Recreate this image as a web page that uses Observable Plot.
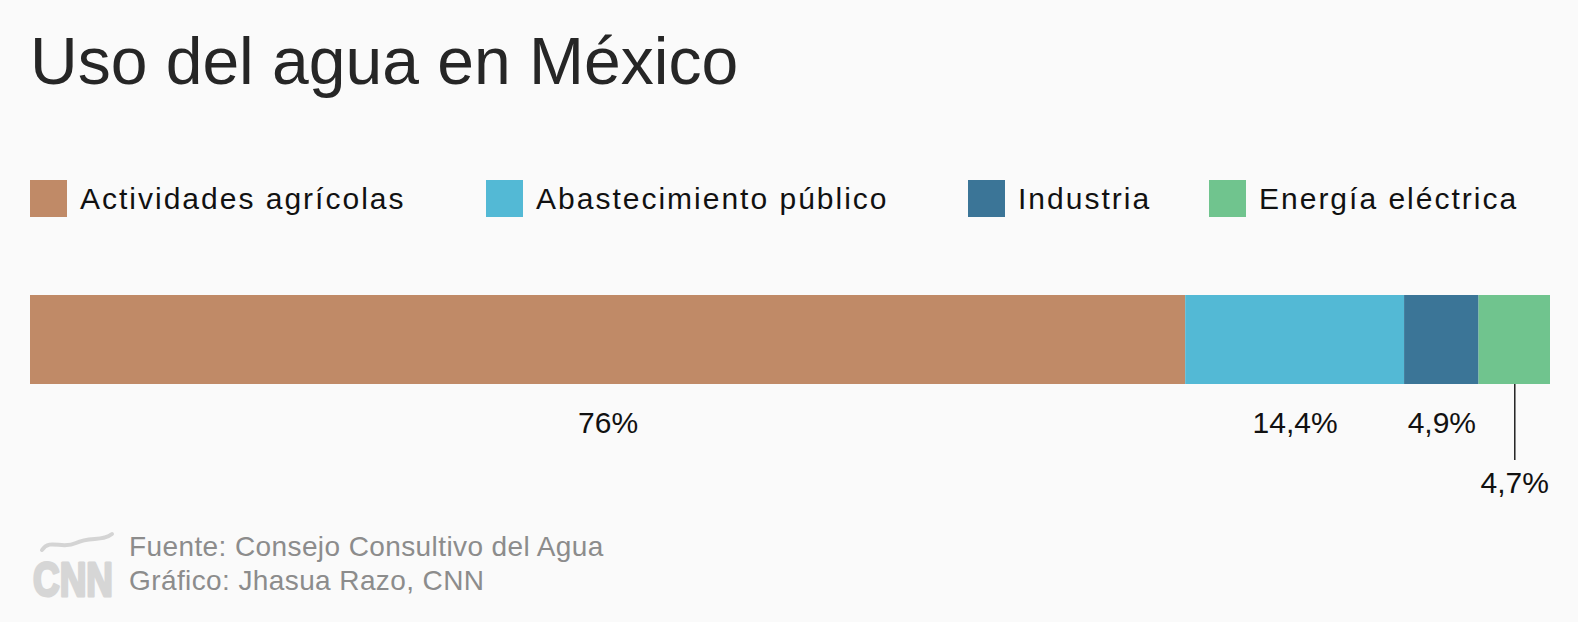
<!DOCTYPE html>
<html><head><meta charset="utf-8">
<script src="https://cdn.jsdelivr.net/npm/d3@7"></script>
<script src="https://cdn.jsdelivr.net/npm/@observablehq/plot@0.6"></script>
<style>
html,body{margin:0;padding:0;background:#fafafa;}
#wrap{position:relative;width:1578px;height:622px;overflow:hidden;font-family:"Liberation Sans",Arial,sans-serif;}
#title{position:absolute;left:30px;top:28px;font-size:66px;line-height:66px;color:#262626;white-space:nowrap;}
.leg{position:absolute;top:180px;height:37px;display:flex;align-items:center;white-space:nowrap;}
.sw{width:37px;height:37px;margin-right:13px;flex:none;}
.lt{font-size:30px;line-height:37px;letter-spacing:2px;color:#111;}
#chart{position:absolute;left:0;top:240px;}
#foot{position:absolute;left:129px;top:530px;font-size:28px;line-height:34px;color:#8c8c8c;letter-spacing:0.4px;white-space:nowrap;}
#logo{position:absolute;left:28px;top:528px;overflow:visible;}
</style></head>
<body><div id="wrap">
<div id="title">Uso del agua en México</div>
<div id="legend"></div>
<div id="chart"></div>
<svg id="logo" width="90" height="84">
 <path d="M14,22 C22,10 34,22 48,15 C62,8 74,14 84,6" fill="none" stroke="#d4d4d4" stroke-width="4" stroke-linecap="round"/>
 <text x="5" y="68" font-family="Liberation Sans, Arial, sans-serif" font-size="48" font-weight="700" textLength="80" lengthAdjust="spacingAndGlyphs" fill="#d6d6d6" stroke="#d6d6d6" stroke-width="3" stroke-linejoin="round">CNN</text>
</svg>
<div id="foot">Fuente: Consejo Consultivo del Agua<br>Gráfico: Jhasua Razo, CNN</div>
</div>
<script>
// --- data ---
const categories = ["Actividades agrícolas", "Abastecimiento público", "Industria", "Energía eléctrica"];
const values = [76, 14.4, 4.9, 4.7];
const colors = ["#c08a67", "#53b9d5", "#3b7597", "#70c48e"];
const calloutCategories = ["Energía eléctrica"]; // label placed below with a leader line

// --- layout (legend item left edges) ---
const legendLeft = [30, 486, 968, 1209];

const fmt = v => String(v).replace(".", ",") + "%";
const ends = d3.cumsum(values);
const rows = categories.map((c, i) => ({
  category: c,
  value: values[i],
  x1: ends[i] - values[i],
  x2: ends[i],
  mid: ends[i] - values[i] / 2,
  label: fmt(values[i])
}));
const inline = rows.filter(d => !calloutCategories.includes(d.category));
const callout = rows.filter(d => calloutCategories.includes(d.category));

// legend
const legend = document.getElementById("legend");
categories.forEach((c, i) => {
  const item = document.createElement("div");
  item.className = "leg";
  item.style.left = legendLeft[i] + "px";
  item.innerHTML = `<div class="sw" style="background:${colors[i]}"></div><span class="lt">${c}</span>`;
  legend.appendChild(item);
});

const chart = Plot.plot({
  width: 1578,
  height: 270,
  marginLeft: 30,
  marginRight: 28,
  marginTop: 55,
  marginBottom: 126,
  x: {domain: [0, d3.sum(values)], axis: null},
  color: {domain: categories, range: colors},
  style: {background: "transparent", fontFamily: "Liberation Sans, Arial, sans-serif", overflow: "visible"},
  marks: [
    Plot.barX(rows, {x1: "x1", x2: "x2", fill: "category"}),
    Plot.text(inline, {x: "mid", text: "label", frameAnchor: "bottom", dy: 48, fontSize: 30, fill: "#111"}),
    Plot.ruleX(callout, {x: "mid", stroke: "#222", strokeWidth: 1.5, insetTop: 89, insetBottom: -76}),
    Plot.text(callout, {x: "mid", text: "label", frameAnchor: "bottom", dy: 108, fontSize: 30, fill: "#111"})
  ]
});
document.getElementById("chart").appendChild(chart);
</script>
</body></html>
